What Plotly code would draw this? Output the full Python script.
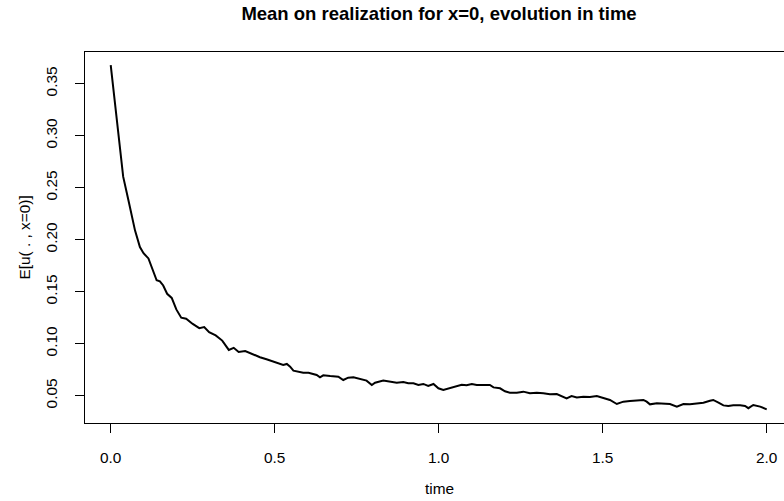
import plotly.graph_objects as go

# time values (x) and mean values E[u(., x=0)] (y)
time_vals = [0.000, 0.006, 0.012, 0.018, 0.028, 0.038, 0.054, 0.074, 0.089, 0.100,
             0.115, 0.128, 0.140, 0.150, 0.160, 0.172, 0.186, 0.200, 0.215, 0.230,
             0.250, 0.270, 0.285, 0.300, 0.320, 0.340, 0.360, 0.375, 0.390, 0.410,
             0.430, 0.455, 0.475, 0.495,
             0.516, 0.526, 0.537, 0.547, 0.557, 0.572, 0.587, 0.603, 0.618, 0.628,
             0.638, 0.648, 0.669, 0.694, 0.709, 0.724, 0.740, 0.760, 0.780, 0.796,
             0.806, 0.831, 0.852, 0.872, 0.892, 0.907, 0.923, 0.938, 0.953, 0.968,
             0.984, 0.999, 1.014, 1.034, 1.055, 1.070, 1.085, 1.101, 1.116, 1.136,
             1.156, 1.167, 1.187, 1.202, 1.217, 1.238, 1.258, 1.278, 1.299, 1.319,
             1.339, 1.360, 1.375, 1.390, 1.405, 1.421, 1.441, 1.461, 1.482, 1.502,
             1.522, 1.543, 1.563, 1.583, 1.604, 1.624, 1.634, 1.644, 1.665, 1.685,
             1.705, 1.726, 1.746, 1.766, 1.787, 1.807, 1.827, 1.837, 1.853, 1.868,
             1.883, 1.898, 1.919, 1.934, 1.944, 1.959, 1.980, 2.000]
mean_vals = [0.3679, 0.350, 0.333, 0.318, 0.289, 0.2606, 0.238, 0.209, 0.193, 0.187,
             0.182, 0.172, 0.161, 0.160, 0.156, 0.148, 0.144, 0.133, 0.125, 0.124,
             0.119, 0.115, 0.116, 0.111, 0.108, 0.103, 0.094, 0.096, 0.092, 0.093,
             0.090, 0.087, 0.085, 0.083,
             0.0811, 0.0795, 0.0805, 0.0779, 0.0741, 0.0731, 0.0721, 0.0721, 0.0709, 0.0699,
             0.0677, 0.0696, 0.0689, 0.0683, 0.0651, 0.0673, 0.0677, 0.0661, 0.0645, 0.0603,
             0.0625, 0.0645, 0.0632, 0.0625, 0.0632, 0.0619, 0.0619, 0.0603, 0.0613, 0.0593,
             0.0613, 0.0571, 0.0555, 0.0574, 0.0593, 0.0606, 0.0600, 0.0613, 0.0603, 0.0606,
             0.0603, 0.0580, 0.0571, 0.0542, 0.0529, 0.0529, 0.0539, 0.0523, 0.0529, 0.0523,
             0.0513, 0.0516, 0.0497, 0.0475, 0.0497, 0.0484, 0.0491, 0.0488, 0.0497, 0.0478,
             0.0459, 0.0420, 0.0443, 0.0449, 0.0455, 0.0459, 0.0443, 0.0417, 0.0427, 0.0420,
             0.0420, 0.0395, 0.0420, 0.0417, 0.0427, 0.0433, 0.0452, 0.0459, 0.0433, 0.0407,
             0.0401, 0.0407, 0.0407, 0.0401, 0.0380, 0.0411, 0.0395, 0.0369]

x_ticks = [0.0, 0.5, 1.0, 1.5, 2.0]
x_tick_labels = ["0.0", "0.5", "1.0", "1.5", "2.0"]
y_ticks = [0.05, 0.10, 0.15, 0.20, 0.25, 0.30, 0.35]
y_tick_labels = ["0.05", "0.10", "0.15", "0.20", "0.25", "0.30", "0.35"]

FONT = "Liberation Sans, Arial, Helvetica, sans-serif"

W, H = 784, 501
ML, MT, MB = 85, 52, 78
PW, PH = W - ML, H - MT - MB

fig = go.Figure()
fig.add_trace(go.Scatter(x=time_vals, y=mean_vals, mode="lines",
                         line=dict(color="black", width=2), showlegend=False,
                         hoverinfo="skip"))

fig.update_layout(
    width=W, height=H,
    margin=dict(l=ML, r=0, t=MT, b=MB, pad=0),
    paper_bgcolor="white", plot_bgcolor="white",
    font=dict(family=FONT, size=15.4, color="black"),
    title=dict(text="<b>Mean on realization for x=0, evolution in time</b>",
               x=439 / W, xanchor="center", xref="container",
               y=1 - 13.5 / H, yanchor="middle", yref="container",
               font=dict(family=FONT, size=18.5, color="black")),
    xaxis=dict(range=[-0.0784, 2.0527], tickvals=x_ticks, ticktext=x_tick_labels,
               showgrid=False, zeroline=False, showline=True, linecolor="black",
               linewidth=1, mirror=True, ticks="outside", ticklen=9, tickwidth=1,
               tickcolor="black", ticklabelstandoff=12),
    yaxis=dict(range=[0.02375, 0.3805], tickvals=y_ticks, ticktext=y_tick_labels,
               showgrid=False, zeroline=False, showline=True, linecolor="black",
               linewidth=1, mirror=False, ticks="outside", ticklen=9, tickwidth=1,
               tickcolor="black", tickangle=-90, ticklabelstandoff=12),
)

fig.add_annotation(text="time", xref="paper", yref="paper", x=(439 - ML) / PW,
                   y=-(488 - 423) / PH, xanchor="center", yanchor="middle",
                   showarrow=False, font=dict(family=FONT, size=15.4, color="black"))
fig.add_annotation(text="E[u( . , x=0)]", xref="paper", yref="paper",
                   x=-(ML - 24) / PW, y=0.5, xanchor="center", yanchor="middle",
                   textangle=-90, showarrow=False,
                   font=dict(family=FONT, size=15.4, color="black"))

# remove the default 8 px page margin so the figure fills the window exactly
fig.write_html("out.html",
               config={"displayModeBar": False, "staticPlot": True},
               post_script="document.body.style.margin='0px';document.body.style.overflow='hidden';")
